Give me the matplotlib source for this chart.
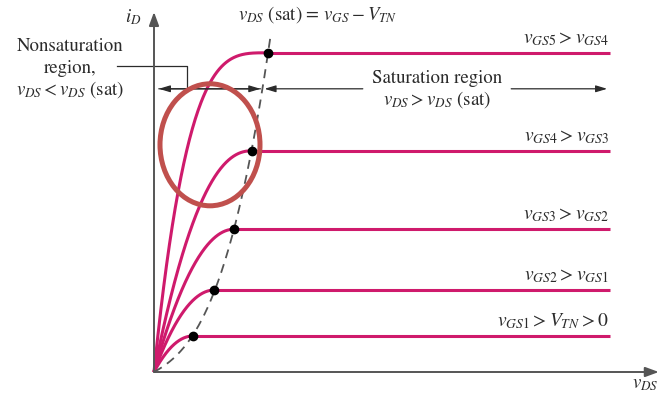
import numpy as np
import matplotlib
matplotlib.use("Agg")
import matplotlib.pyplot as plt
from matplotlib.patches import Ellipse

plt.rcParams.update({
    "font.family": "STIXGeneral",
    "mathtext.fontset": "stix",
    "font.size": 13.5,
})

# saturation points of the five curves (v_DS(sat), i_D(sat)), arbitrary units
vds_sat = [0.97, 1.51, 2.00, 2.44, 2.85]
id_sat = [0.90, 2.05, 3.57, 5.53, 7.98]
vds_end = 11.4
curve_labels = [
    r"$v_{GS1} > V_{TN} > 0$",
    r"$v_{GS2} > v_{GS1}$",
    r"$v_{GS3} > v_{GS2}$",
    r"$v_{GS4} > v_{GS3}$",
    r"$v_{GS5} > v_{GS4}$",
]
# how sharply each nonsaturation curve bends over
bow = [2.0, 2.0, 2.0, 2.2, 3.5]

LINE = "#cf1a6c"
AXIS = "#555555"
TXT = "#2b2b2b"

fig = plt.figure(figsize=(6.6, 3.96), dpi=100)
ax = fig.add_axes([0, 0, 1, 1])
ax.set_xlim(-3.85, 12.65)
ax.set_ylim(-0.6, 9.3)
ax.axis("off")

# axes with arrowheads
arr = dict(arrowstyle="-|>,head_length=0.6,head_width=0.22", color=AXIS, lw=1.4,
           shrinkA=0, shrinkB=0)
ax.annotate("", xy=(0, 9.0), xytext=(0, 0), arrowprops=arr)
ax.annotate("", xy=(12.62, 0), xytext=(0, 0), arrowprops=arr)
ax.text(-0.52, 8.87, r"$i_D$", ha="center", va="center", color=TXT)
ax.text(11.95, -0.3, r"$v_{DS}$", ha="left", va="center", color=TXT)

# i_D - v_DS curves: rising part, then flat in saturation
for v, i, n, lab in zip(vds_sat, id_sat, bow, curve_labels):
    t = np.linspace(0, 1, 200)
    ax.plot(t * v, i * (1 - (1 - t) ** n), color=LINE, lw=2.2, solid_capstyle="butt")
    ax.plot([v, vds_end], [i, i], color=LINE, lw=2.2, solid_capstyle="butt")
    ax.text(vds_end - 0.02, i + 0.12, lab, ha="right", va="bottom", color=TXT,
            fontsize=14)

# v_DS(sat) locus through the saturation points
vs = np.array(vds_sat)
A = np.column_stack([vs, vs ** 2, vs ** 3])
c1, c2, c3 = np.linalg.lstsq(A, np.array(id_sat), rcond=None)[0]
vl = np.linspace(0, vs[-1] * 1.025, 200)
il = c1 * vl + c2 * vl ** 2 + c3 * vl ** 3
ax.plot(vl, il, color="#555555", lw=1.3, ls=(0, (5, 3.5)), zorder=3)
ax.plot(vds_sat, id_sat, "o", color="black", ms=6, zorder=4)

ax.text(2.1, 8.93, r"$v_{DS}$ (sat) = $v_{GS} - V_{TN}$", ha="left", va="center",
        color=TXT)

# region arrows
ya = 7.08
xc = np.interp(ya, il, vl)
harr = dict(arrowstyle="-|>,head_length=0.5,head_width=0.15", color=TXT, lw=0.9,
            shrinkA=0, shrinkB=0)
ax.annotate("", xy=(0.12, ya), xytext=(xc - 0.05, ya), arrowprops=harr)
ax.annotate("", xy=(xc - 0.05, ya), xytext=(0.12, ya), arrowprops=harr)
ax.annotate("", xy=(xc + 0.05, ya), xytext=(5.22, ya), arrowprops=harr)
ax.annotate("", xy=(11.33, ya), xytext=(8.93, ya), arrowprops=harr)

ax.text(-2.1, 8.13, "Nonsaturation", ha="center", va="center", color=TXT)
ax.text(-2.1, 7.6, "region,", ha="center", va="center", color=TXT)
ax.text(-2.1, 7.05, r"$v_{DS} < v_{DS}$ (sat)", ha="center", va="center", color=TXT)
ax.plot([-0.93, 0.83, 0.83], [7.65, 7.65, ya], color=TXT, lw=0.9)

ax.text(7.08, 7.35, "Saturation region", ha="center", va="center", color=TXT)
ax.text(7.08, 6.8, r"$v_{DS} > v_{DS}$ (sat)", ha="center", va="center", color=TXT)

# highlight around the nonsaturation curves
ax.add_patch(Ellipse((1.4, 5.68), 2.5, 3.05, fill=False, ec="#c0504d", lw=3.6,
                     zorder=5))

fig.savefig("out.png", dpi=100)
